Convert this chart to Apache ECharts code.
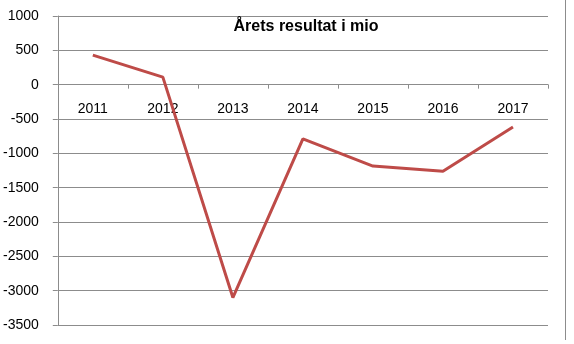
<!DOCTYPE html>
<html>
<head>
<meta charset="utf-8">
<script src="https://cdn.jsdelivr.net/npm/echarts@6/dist/echarts.min.js"></script>
<style>html,body{margin:0;padding:0;background:#fff;}#c{width:574px;height:344px;}</style>
</head>
<body>
<div id="c"></div>
<script>
const categories = ['2011', '2012', '2013', '2014', '2015', '2016', '2017'];
const resultat = [430, 110, -3100, -790, -1185, -1260, -615];
const titleText = 'Årets resultat i mio';
const yMin = -3500, yMax = 1000, yStep = 500;

const W = 574, H = 344;
const gridTop = 16, gridBottom = 19;
const plotH = H - gridTop - gridBottom;
// move the category axis onto the zero line (measured from the grid bottom)
const zeroOffset = -plotH * (0 - yMin) / (yMax - yMin);

const chart = echarts.init(document.getElementById('c'), null, {renderer: 'canvas'});
chart.setOption({
  animation: false,
  backgroundColor: '#fff',
  title: {
    text: titleText,
    left: 301,
    top: 14,
    textAlign: 'center',
    textStyle: {fontFamily: 'Liberation Sans', fontSize: 16, fontWeight: 'bold', color: '#000'}
  },
  grid: {left: 53, right: 26, top: gridTop, bottom: gridBottom},
  xAxis: {
    type: 'category',
    data: categories,
    boundaryGap: true,
    position: 'bottom',
    offset: zeroOffset,
    axisLine: {show: true, onZero: false, lineStyle: {color: '#8c8c8c', width: 1}},
    axisTick: {show: true, length: 4, inside: false, lineStyle: {color: '#8c8c8c'}},
    axisLabel: {color: '#000', fontFamily: 'Liberation Sans', fontSize: 14, margin: 17},
    splitLine: {show: false}
  },
  yAxis: {
    type: 'value',
    min: yMin,
    max: yMax,
    interval: yStep,
    axisLine: {show: true, lineStyle: {color: '#8c8c8c', width: 1}},
    axisTick: {show: true, length: 5, lineStyle: {color: '#8c8c8c'}},
    axisLabel: {color: '#000', fontFamily: 'Liberation Sans', fontSize: 14, margin: 19, formatter: function (v) { return String(v); }},
    splitLine: {show: true, lineStyle: {color: '#8c8c8c', width: 1}}
  },
  series: [{
    type: 'line',
    data: resultat,
    symbol: 'none',
    lineStyle: {color: '#be4b48', width: 3},
    itemStyle: {color: '#be4b48'}
  }],
  graphic: [{
    type: 'line',
    shape: {x1: 565.5, y1: 0, x2: 565.5, y2: 340},
    style: {stroke: '#8c8c8c', lineWidth: 1}
  }]
});
</script>
</body>
</html>
